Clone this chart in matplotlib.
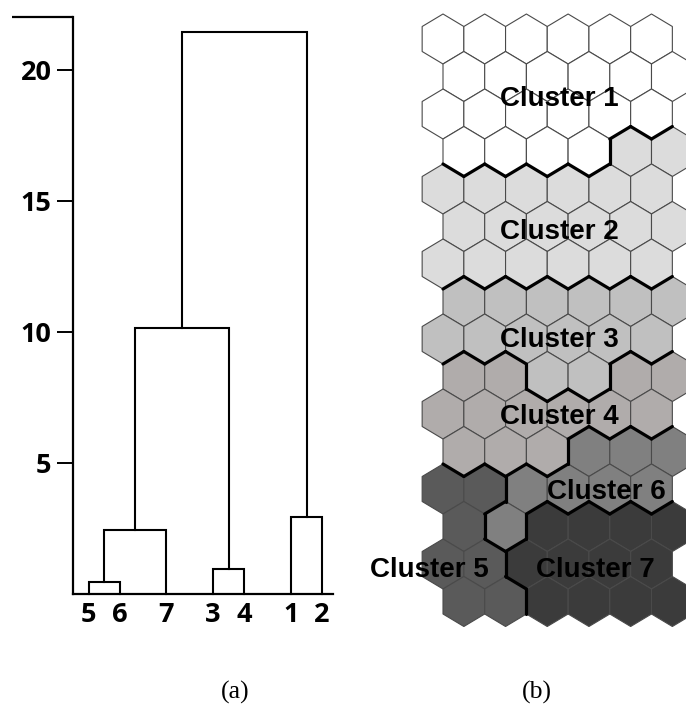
import numpy as np
import matplotlib
matplotlib.use("Agg")
import matplotlib.pyplot as plt
from matplotlib.patches import Polygon

# ---------------- dendrogram data ----------------
leaf_labels = ["5", "6", "7", "3", "4", "1", "2"]
leaf_pos = [1, 3, 6, 9, 11, 14, 16]
# merges: (left member, right member, height); members are leaf labels or merge ids "m0".."m5"
merge_left = ["5", "m0", "3", "m1", "1", "m3"]
merge_right = ["6", "7", "4", "m2", "2", "m4"]
merge_height = [0.46, 2.46, 0.97, 10.16, 2.94, 21.47]
y_ticks = [5, 10, 15, 20]

# ---------------- SOM map data ----------------
# cluster number of each node, rows top to bottom, 6 nodes per row, odd rows shifted right
som_clusters = [
    [1, 1, 1, 1, 1, 1],
    [1, 1, 1, 1, 1, 1],
    [1, 1, 1, 1, 1, 1],
    [1, 1, 1, 1, 2, 2],
    [2, 2, 2, 2, 2, 2],
    [2, 2, 2, 2, 2, 2],
    [2, 2, 2, 2, 2, 2],
    [3, 3, 3, 3, 3, 3],
    [3, 3, 3, 3, 3, 3],
    [4, 4, 3, 3, 4, 4],
    [4, 4, 4, 4, 4, 4],
    [4, 4, 4, 6, 6, 6],
    [5, 5, 6, 6, 6, 6],
    [5, 6, 7, 7, 7, 7],
    [5, 5, 7, 7, 7, 7],
    [5, 5, 7, 7, 7, 7],
]
cluster_colors = {1: "#ffffff", 2: "#dcdcdc", 3: "#c0c0c0", 4: "#b0acab",
                  5: "#5a5a5a", 6: "#808080", 7: "#3b3b3b"}
label_names = ["Cluster 1", "Cluster 2", "Cluster 3", "Cluster 4",
               "Cluster 6", "Cluster 5", "Cluster 7"]
label_x = [2.8, 2.8, 2.8, 2.8, 3.92, -0.32, 3.65]
label_y = [1.6, 5.15, 8.02, 10.07, 12.07, 14.15, 14.15]

W, H = 686, 709
fig = plt.figure(figsize=(W / 100, H / 100), dpi=100)

# ---------------- (a) dendrogram ----------------
y_top = 22.02
ax = fig.add_axes([73 / W, 1 - 594.3 / H, (333 - 73) / W, (594.3 - 17.3) / H])
ax.set_xlim(0, 16.7)
ax.set_ylim(0, y_top)

node_x = {lab: x for lab, x in zip(leaf_labels, leaf_pos)}
node_y = {lab: 0.0 for lab in leaf_labels}
for i, (a, b, h) in enumerate(zip(merge_left, merge_right, merge_height)):
    xa, xb = node_x[a], node_x[b]
    ax.plot([xa, xa, xb, xb], [node_y[a], h, h, node_y[b]],
            color="black", lw=1.5, solid_joinstyle="miter", clip_on=False)
    node_x[f"m{i}"] = (xa + xb) / 2
    node_y[f"m{i}"] = h

for s in ["top", "right"]:
    ax.spines[s].set_visible(False)
for s in ["left", "bottom"]:
    ax.spines[s].set_linewidth(1.6)
ax.set_yticks(y_ticks)
ax.set_yticklabels([str(t) for t in y_ticks], fontsize=19.5,
                   fontweight="bold", family="Open Sans")
ax.tick_params(axis="y", length=11.5, width=1.4, pad=4)
ax.set_xticks(leaf_pos)
ax.set_xticklabels(leaf_labels, fontsize=19.5, fontweight="bold", family="Open Sans")
ax.tick_params(axis="x", length=0, pad=5.5)
# cap line at the top of the y axis
ax.plot([-61 / 260 * 16.7, 0], [y_top, y_top], color="black", lw=1.6,
        clip_on=False, solid_capstyle="butt")

fig.text(235 / W, 1 - 692 / H, "(a)", ha="center", va="center",
         fontsize=18.5, family="Liberation Serif")
fig.text(537 / W, 1 - 692 / H, "(b)", ha="center", va="center",
         fontsize=18.5, family="Liberation Serif")

# ---------------- (b) hexagonal SOM ----------------
x0, dx = 443.0, 41.7      # pixel centre of first node and column step
y0, dy = 39.0, 37.5       # pixel centre of first row and row step
px_l, px_r, px_t, px_b = 400, 720, 0, 650
hx = fig.add_axes([px_l / W, 1 - px_b / H, (px_r - px_l) / W, (px_b - px_t) / H])
hx.set_xlim((px_l - x0) / dx, (px_r - x0) / dx)
hx.set_ylim((px_b - y0) / dy, (px_t - y0) / dy)
hx.axis("off")

half = 2.0 / 3.0          # half height of a hexagon in row units
edge = 1.0 / 3.0          # half length of the vertical edges


def hex_vertices(cx, cy):
    return [(cx, cy - half), (cx + 0.5, cy - edge), (cx + 0.5, cy + edge),
            (cx, cy + half), (cx - 0.5, cy + edge), (cx - 0.5, cy - edge)]


grid = np.array(som_clusters)
nrows, ncols = grid.shape
centers = {}
for r in range(nrows):
    for c in range(ncols):
        cx = c + (0.5 if r % 2 else 0.0)
        centers[(r, c)] = (cx, r)
        hx.add_patch(Polygon(hex_vertices(cx, r), closed=True,
                             facecolor=cluster_colors[grid[r, c]],
                             edgecolor="#4a4a4a", lw=0.8))


def neighbours(r, c):
    out = [(r, c + 1)]
    if r % 2 == 0:
        out += [(r + 1, c - 1), (r + 1, c)]
    else:
        out += [(r + 1, c), (r + 1, c + 1)]
    return [(a, b) for a, b in out if 0 <= a < nrows and 0 <= b < ncols]


# thick borders between different clusters
for r in range(nrows):
    for c in range(ncols):
        for (r2, c2) in neighbours(r, c):
            if grid[r, c] == grid[r2, c2]:
                continue
            va = hex_vertices(*centers[(r, c)])
            vb = hex_vertices(*centers[(r2, c2)])
            shared = [p for p in va
                      if any(abs(p[0] - q[0]) < 1e-6 and abs(p[1] - q[1]) < 1e-6 for q in vb)]
            if len(shared) == 2:
                hx.plot([shared[0][0], shared[1][0]], [shared[0][1], shared[1][1]],
                        color="black", lw=2.3, solid_capstyle="round")

for name, lx, ly in zip(label_names, label_x, label_y):
    hx.text(lx, ly, name, ha="center", va="center", fontsize=20,
            fontweight="bold", family="Liberation Sans", color="black")

fig.savefig("out.png", dpi=100)
